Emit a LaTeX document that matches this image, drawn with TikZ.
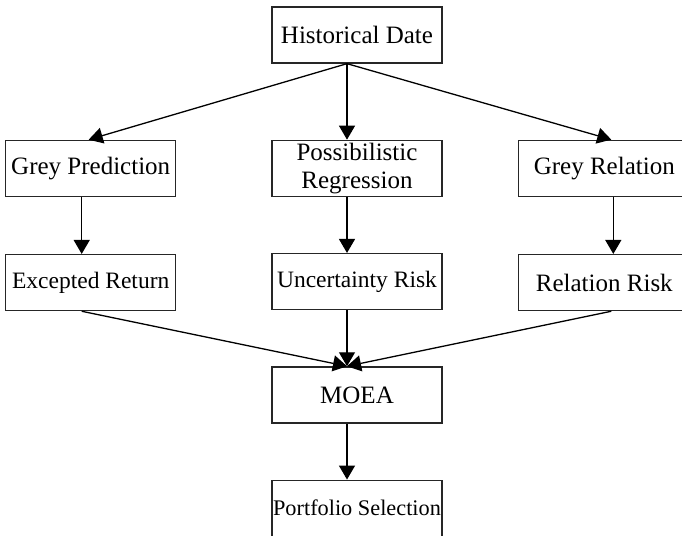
\documentclass[tikz,border=0pt]{standalone}
\usepackage{fontspec}
\setmainfont{Liberation Serif}
\usetikzlibrary{positioning,arrows.meta}

\begin{document}
\begin{tikzpicture}[
  x=1pt, y=-1pt,
  font=\fontsize{25}{28}\selectfont,
  stage/.style={draw=black!85, line width=1.3pt, minimum width=170pt, minimum height=56pt, inner sep=0pt, align=center},
  smaller/.style={font=\fontsize{23.5}{28}\selectfont},
  smallest/.style={font=\fontsize{22.3}{28}\selectfont},
  arrow/.style={-{Triangle[length=14pt,width=16pt]}, line width=1.3pt},
]
\useasboundingbox (0,0) rectangle (682,535);

% Data on top, the three models below it.
\node[stage] (hd) at (357,35) {Historical Date};
\node[stage, below=76pt of hd] (pr) {Possibilistic\\Regression};
\node[stage, left=95pt of pr] (gp) {Grey Prediction};
\node[stage, right=75pt of pr, minimum width=172pt] (gr) {Grey Relation};

% What each model gives.
\node[stage, smaller, below=57pt of gp] (er) {Excepted Return};
\node[stage, smaller, below=56pt of pr] (ur) {Uncertainty Risk};
\node[stage, minimum width=172pt, below=57pt of gr] (rr) {Relation Risk};

% Optimisation and result.
\node[stage, below=56pt of ur] (moea) {MOEA};
\node[stage, smallest, below=56pt of moea] (ps) {Portfolio Selection};

\draw[arrow] ([xshift=-10pt]hd.south) -- ([xshift=-2pt]gp.north);
\draw[arrow] ([xshift=-10pt]hd.south) -- ([xshift=-10pt]pr.north);
\draw[arrow] ([xshift=-10pt]hd.south) -- ([xshift=7pt]gr.north);

\draw[arrow] ([xshift=-9pt]gp.south) -- ([xshift=-9pt]er.north);
\draw[arrow] ([xshift=-10pt]pr.south) -- ([xshift=-10pt]ur.north);
\draw[arrow] ([xshift=9pt]gr.south) -- ([xshift=9pt]rr.north);

\draw[arrow] ([xshift=-9pt]er.south) -- ([xshift=-10pt]moea.north);
\draw[arrow] ([xshift=-10pt]ur.south) -- ([xshift=-10pt]moea.north);
\draw[arrow] ([xshift=7pt]rr.south) -- ([xshift=-10pt]moea.north);

\draw[arrow] ([xshift=-10pt]moea.south) -- ([xshift=-10pt]ps.north);

\end{tikzpicture}
\end{document}
